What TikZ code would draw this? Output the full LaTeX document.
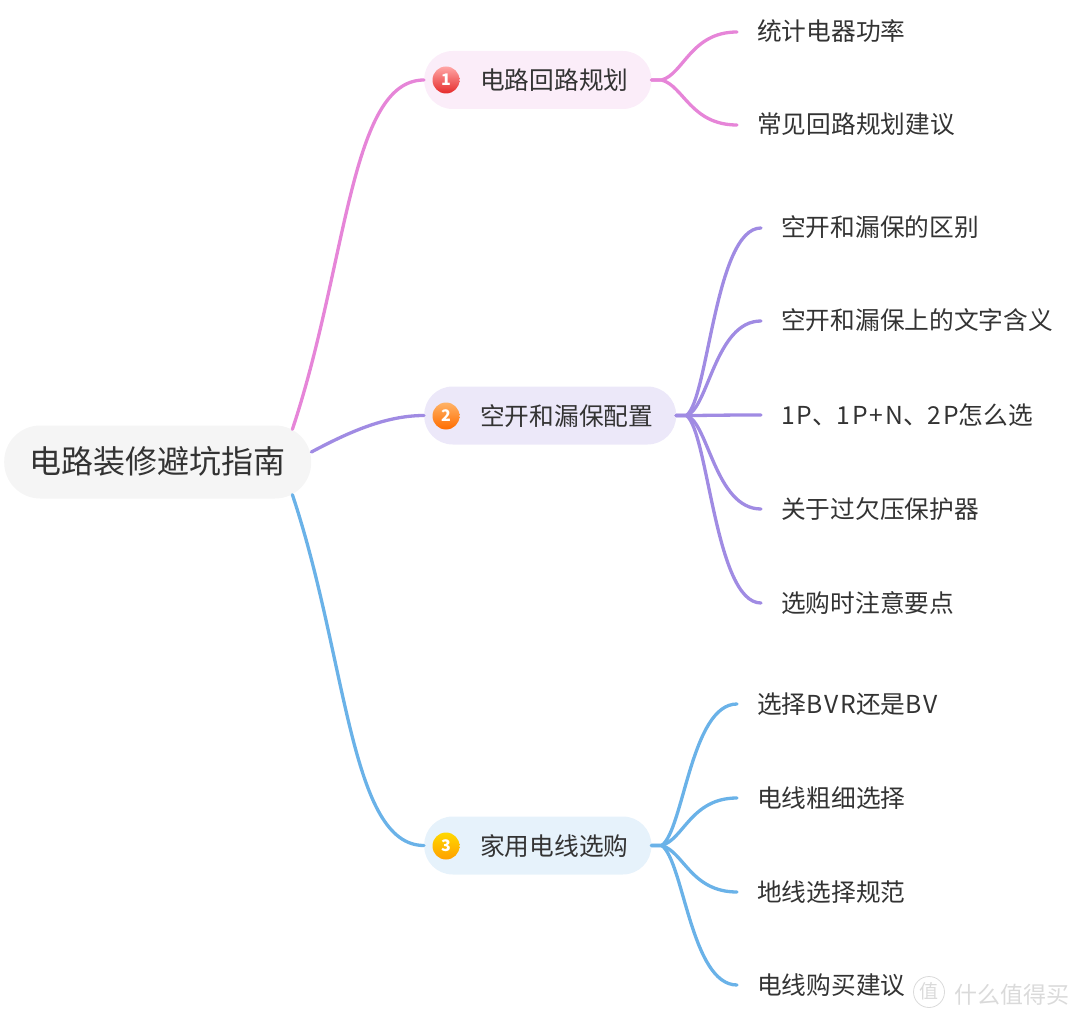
\documentclass[tikz,border=0pt]{standalone}
\usepackage{fontspec}
\setmainfont{Noto Sans CJK SC}
\definecolor{inkc}{HTML}{333333}
\definecolor{pinkc}{HTML}{E685D8}
\definecolor{purplec}{HTML}{A08BE3}
\definecolor{bluec}{HTML}{6AB2E8}
\definecolor{marks}{HTML}{DADADA}
\newcommand{\widelatin}[1]{{\addfontfeature{LetterSpace=7}#1}}

\begin{document}
\begin{tikzpicture}
  [x=1pt,y=1pt,every node/.style={text=inkc,inner ysep=0pt,text height=22pt,text depth=2pt}]
 \tikzset{edge/.style = {line width=3.3pt,line cap=round},
   root/.style = {fill=black!4,rounded corners=36pt,minimum height=73pt,minimum width=307pt,inner xsep=0pt,anchor=west,text height=23pt,text depth=1pt,font=\fontsize{32}{36}\selectfont},
   branch/.style = {rounded corners=28.5pt,minimum height=58pt,inner xsep=23pt,anchor=west,text height=21.5pt,text depth=2.5pt,font=\fontsize{24.7}{30}\selectfont},
   leaf/.style = {inner xsep=20pt,anchor=west,text height=21pt,text depth=3pt,font=\fontsize{24.7}{30}\selectfont},
   badge/.style = {circle,minimum size=27pt,inner sep=0pt,text=white,text height=11pt,text depth=0pt,font=\fontsize{16}{16}\selectfont\bfseries}}
  \useasboundingbox (0,0) rectangle (1080,-1019);

  \node[root] (r) at (4,-462) {电路装修避坑指南};
  \node[branch,fill=pinkc!15] (b1) at (424,-80) {\hspace{33pt}电路回路规划};
  \node[branch,fill=purplec!20] (b2) at (424,-415.5) {\hspace{33pt}空开和漏保配置};
  \node[branch,fill=bluec!17] (b3) at (424,-845.5) {\hspace{33pt}家用电线选购};
  \node[badge,top color=red!35!white,bottom color=red!75!pink!90!black] (n1) at (446,-80) {1};
  \node[badge,top color=orange!60!white,bottom color=orange!85!red] (n2) at (446,-416) {2};
  \node[badge,top color=yellow!70!orange,bottom color=orange!75!yellow] (n3) at (446,-846) {3};

  \node[leaf] (1a) at (737,-32)  {统计电器功率};
  \node[leaf] (1b) at (737,-125) {常见回路规划建议};
  \node[leaf] (2a) at (761,-228) {空开和漏保的区别};
  \node[leaf] (2b) at (761,-321) {空开和漏保上的文字含义};
  \node[leaf] (2c) at (761,-415) {\widelatin{1P}、\widelatin{1P+N}、\widelatin{2P}怎么选};
  \node[leaf] (2d) at (761,-509) {关于过欠压保护器};
  \node[leaf] (2e) at (761,-603) {选购时注意要点};
  \node[leaf] (3a) at (737,-704) {选择\widelatin{BVR}还是\widelatin{BV}};
  \node[leaf] (3b) at (737,-798) {电线粗细选择};
  \node[leaf] (3c) at (737,-892) {地线选择规范};
  \node[leaf] (3d) at (737,-985) {电线购买建议};

  %the mark in the corner
  \node[circle,draw=marks,line width=.8pt,text=marks,minimum size=31pt,inner sep=0pt,text height=14pt,text depth=2pt,font=\fontsize{19}{19}\selectfont] (wm) at (929,-992) {值};
  \node[text=marks,anchor=west,inner sep=0pt,font=\fontsize{23}{23}\selectfont] (wt) at (954,-993) {什么值得买};

  \draw[edge,pinkc] ([shift={(-19pt,-4pt)}]r.north east) .. controls +(55pt,165pt) and +(-74pt,0pt) .. (b1.west);
  \draw[edge,purplec] ([shift={(0pt,10pt)}]r.east) .. controls +(34pt,18pt) and +(-40pt,0pt) .. (b2.west);
  \draw[edge,bluec] ([shift={(-19pt,4pt)}]r.south east) .. controls +(55pt,-165pt) and +(-74pt,0pt) .. (b3.west);

  \foreach \from/\to/\rise in {b1/1a/6,b1/1b/-6}
    \draw[edge,pinkc] (\from.east) -- ++(10pt,0pt) .. controls +(22pt,\rise pt) and +(-46pt,0pt) .. (\to.west);
  \foreach \from/\to/\rise in {b2/2a/15,b2/2b/6,b2/2c/0,b2/2d/-6,b2/2e/-15}
    \draw[edge,purplec] (\from.east) -- ++(10pt,0pt) .. controls +(22pt,\rise pt) and +(-46pt,0pt) .. (\to.west);
  \foreach \from/\to/\rise in {b3/3a/15,b3/3b/6,b3/3c/-6,b3/3d/-15}
    \draw[edge,bluec] (\from.east) -- ++(10pt,0pt) .. controls +(22pt,\rise pt) and +(-46pt,0pt) .. (\to.west);

\end{tikzpicture}
\end{document}
